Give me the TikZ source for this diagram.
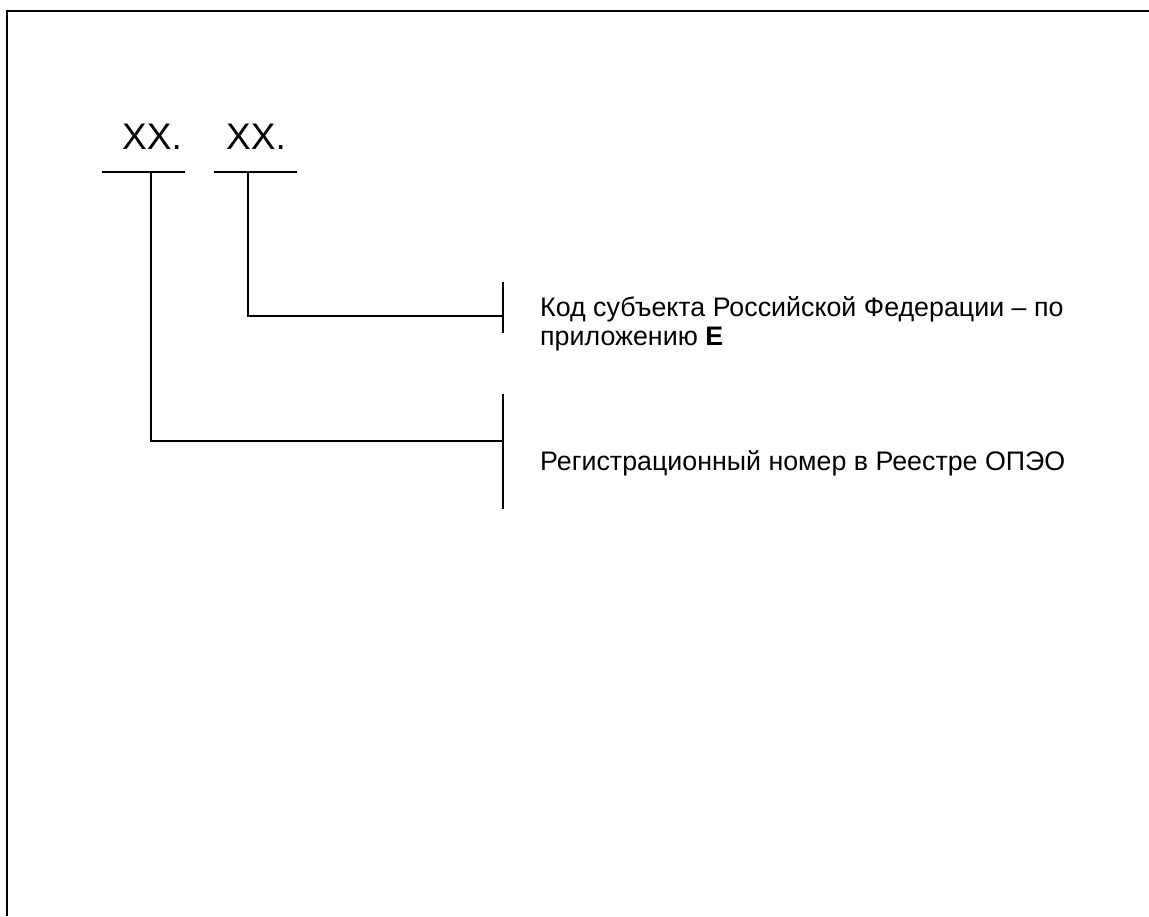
\documentclass[tikz,border=0pt]{standalone}
\usepackage{fontspec}
\setmainfont{Liberation Sans}
\begin{document}
\begin{tikzpicture}[x=1pt,y=-1pt,
  ln/.style={line width=1.6pt,line cap=rect},
  big/.style={inner sep=0pt,anchor=base west,font=\fontsize{37}{40}\selectfont},
  lbl/.style={inner sep=0pt,anchor=north west,align=left,font=\fontsize{26.8}{29.5}\selectfont}]
\useasboundingbox (0,0) rectangle (1149,916);
% frame (left and top only)
\coordinate (fbl) at (7,916);
\coordinate (ftl) at (7,11);
\coordinate (ftr) at (1149,11);
\draw[line width=2pt] (fbl) -- (ftl) -- (ftr);
% codes
\node[big] (xx1) at (122,149) {XX.};
\node[big] (xx2) at (226,149) {XX.};
% underlines
\coordinate (u1l) at (103,172); \coordinate (u1r) at (184,172);
\coordinate (u2l) at (215,172); \coordinate (u2r) at (296,172);
\draw[ln] (u1l) -- (u1r);
\draw[ln] (u2l) -- (u2r);
% brackets
\coordinate (b1t) at (503,283); \coordinate (b1b) at (503,332);
\coordinate (b2t) at (503,395); \coordinate (b2b) at (503,508);
\draw[ln] (b1t) -- (b1b);
\draw[ln] (b2t) -- (b2b);
% connectors
\coordinate (s2) at (248,172); \coordinate (s1) at (151,172);
\draw[ln] (s2) |- (b1t |- 0,316);
\draw[ln] (s1) |- (b2t |- 0,441);
% labels
\node[lbl] (t1) at (540,296) {Код субъекта Российской Федерации – по\\приложению \textbf{Е}};
\node[lbl,anchor=base west] (t2) at (540,470) {Регистрационный номер в Реестре ОПЭО};
\end{tikzpicture}
\end{document}
